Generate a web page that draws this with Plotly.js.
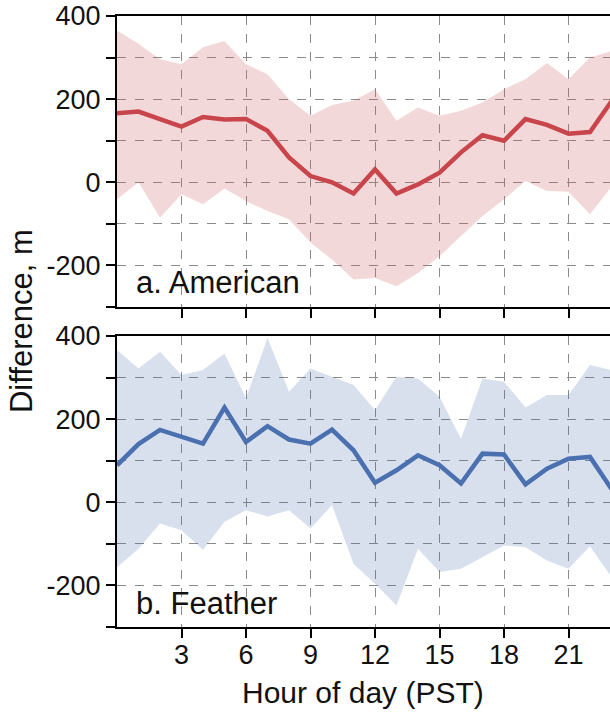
<!DOCTYPE html>
<html>
<head>
<meta charset="utf-8">
<script src="https://cdn.plot.ly/plotly-3.0.1.min.js"></script>
<style>html,body{margin:0;padding:0;background:#fff}</style>
</head>
<body>
<div id="chart" style="width:610px;height:713px"></div>
<script>
// Hour of day (PST)
const hours = [0,1,2,3,4,5,6,7,8,9,10,11,12,13,14,15,16,17,18,19,20,21,22,23];

// a. American: mean difference and spread (m)
const americanMean  = [166,170,152,134,157,151,152,124,60,15,0,-27,31,-27,-5,23,72,113,100,152,138,117,121,195];
const americanUpper = [365,333,296,284,325,340,284,260,200,160,186,196,224,148,180,160,172,192,224,248,287,248,300,316];
const americanLower = [-41,0,-85,-29,-53,-15,-45,-69,-89,-145,-186,-234,-230,-250,-218,-178,-129,-81,-41,3,-21,-23,-77,-10];

// b. Feather: mean difference and spread (m)
const featherMean  = [89,140,174,157,141,228,145,183,151,141,175,125,47,77,113,89,45,117,115,43,81,105,109,32];
const featherUpper = [366,322,362,306,318,358,250,395,266,322,302,282,222,302,298,254,153,298,290,228,258,258,330,318];
const featherLower = [-156,-112,-51,-67,-114,-47,-19,-34,-19,-63,-7,-148,-196,-248,-112,-168,-160,-132,-104,-108,-140,-160,-106,-180];

const xTicks = [3,6,9,12,15,18,21];
const yTicks = [-300,-200,-100,0,100,200,300,400];
const yTickText = ['', '-200', '', '0', '', '200', '', '400'];

const FONT = 'Liberation Sans, Arial, sans-serif';
const TICK_SIZE = 27;

function band(upper, lower, fill, xa, ya) {
  return [
    {x: hours, y: upper, xaxis: xa, yaxis: ya, mode: 'lines', line: {width: 0}, hoverinfo: 'skip', showlegend: false},
    {x: hours, y: lower, xaxis: xa, yaxis: ya, mode: 'lines', line: {width: 0}, fill: 'tonexty', fillcolor: fill, hoverinfo: 'skip', showlegend: false}
  ];
}
function meanLine(vals, color, xa, ya) {
  return {x: hours, y: vals, xaxis: xa, yaxis: ya, mode: 'lines', line: {color: color, width: 4.5}, showlegend: false};
}

const traces = [
  ...band(americanUpper, americanLower, 'rgba(205,92,100,0.24)', 'x', 'y'),
  meanLine(americanMean, '#c8454b', 'x', 'y'),
  ...band(featherUpper, featherLower, 'rgba(76,114,176,0.22)', 'x2', 'y2'),
  meanLine(featherMean, '#4a70b0', 'x2', 'y2')
];

function xAxis(extra) {
  return Object.assign({
    range: [0, 22.93], tickmode: 'array', tickvals: xTicks, ticks: 'outside', ticklen: 9, tickwidth: 2, tickcolor: '#000',
    showline: true, linecolor: '#000', linewidth: 2, mirror: true,
    showgrid: true, gridcolor: '#8a8a8a', griddash: 'dash', gridwidth: 1, zeroline: false,
    tickfont: {family: FONT, size: TICK_SIZE, color: '#111'}, ticklabelstandoff: -6
  }, extra);
}
function yAxis(extra) {
  return Object.assign({
    range: [-300, 400], tickmode: 'array', tickvals: yTicks, ticktext: yTickText, ticks: 'outside', ticklen: 9, tickwidth: 2, tickcolor: '#000',
    showline: true, linecolor: '#000', linewidth: 2, mirror: false,
    showgrid: true, gridcolor: '#8a8a8a', griddash: 'dash', gridwidth: 1, zeroline: false,
    tickfont: {family: FONT, size: TICK_SIZE, color: '#111'}
  }, extra);
}

const layout = {
  width: 610, height: 713,
  margin: {l: 117, r: 0, t: 16, b: 86},
  paper_bgcolor: '#fff', plot_bgcolor: '#fff',
  font: {family: FONT, size: TICK_SIZE, color: '#111'},
  xaxis: xAxis({anchor: 'y', showticklabels: false}),
  yaxis: yAxis({domain: [0.5237, 1], anchor: 'x'}),
  xaxis2: xAxis({anchor: 'y2'}),
  yaxis2: yAxis({domain: [0, 0.4763], anchor: 'x2'}),
  annotations: [
    {text: 'Difference, m', xref: 'paper', yref: 'paper', x: -0.1947, y: 0.5008, textangle: -90,
     showarrow: false, xanchor: 'center', yanchor: 'middle', font: {family: FONT, size: 31, color: '#111'}},
    {text: 'Hour of day (PST)', xref: 'paper', yref: 'paper', x: 0.499, y: -0.107,
     showarrow: false, xanchor: 'center', yanchor: 'middle', font: {family: FONT, size: 30, color: '#111'}},
    {text: 'a. American', xref: 'x', yref: 'y', x: 0.8, y: -240, xanchor: 'left', yanchor: 'middle',
     showarrow: false, font: {family: FONT, size: 31, color: '#111'}},
    {text: 'b. Feather', xref: 'x2', yref: 'y2', x: 0.8, y: -243, xanchor: 'left', yanchor: 'middle',
     showarrow: false, font: {family: FONT, size: 31, color: '#111'}}
  ]
};

Plotly.newPlot('chart', traces, layout, {staticPlot: true, displayModeBar: false});
</script>
</body>
</html>
